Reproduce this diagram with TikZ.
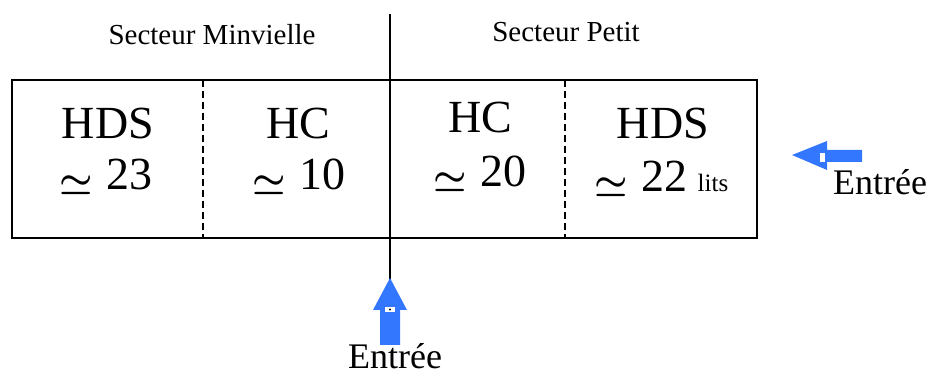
\documentclass[tikz,border=0pt]{standalone}
\usepackage{fontspec}
\usepackage{graphicx}
\usepackage{amsmath}
\setmainfont{Liberation Serif}
\newcommand{\approxsym}{\raisebox{-0.1em}{\scalebox{1.5}{$\boldsymbol{\simeq}$}}\hspace{0.28em}}
\begin{document}
\begin{tikzpicture}[x=1pt,y=-1pt,
  big/.style={font=\fontsize{46}{50}\selectfont, anchor=base, inner sep=0pt},
  small/.style={font=\fontsize{29}{32}\selectfont, anchor=base, inner sep=0pt},
  tiny/.style={font=\fontsize{25}{28}\selectfont, anchor=base, inner sep=0pt},
  entree/.style={font=\fontsize{36}{40}\selectfont, anchor=base, inner sep=0pt},
  blue arrow/.style={fill={rgb,255:red,51;green,119;blue,255}, draw=none},
  divider/.style={line width=2pt, dash pattern=on 7pt off 4pt}]
\useasboundingbox (0,0) rectangle (930,374);
% box
\draw[line width=1.4pt] (12,80) rectangle (757,238);
\draw[divider] (203,80) -- (203,238);
\draw[divider] (565,80) -- (565,238);
\coordinate (top) at (390,14);
\coordinate (bot) at (390,280);
\draw[line width=1.3pt] (top) -- (bot);
% sector labels
\node[small] (sm) at (212,45) {Secteur Minvielle};
\node[small] (sp) at (566,42) {Secteur Petit};
% cells
\node[big] (a1) at (108,139) {HDS};
\node[big] (a2) at (106,190) {\approxsym 23};
\node[big] (b1) at (298,139) {HC};
\node[big] (b2) at (299,190) {\approxsym 10};
\node[big] (c1) at (480,133) {HC};
\node[big] (c2) at (480,187) {\approxsym 20};
\node[big] (d1) at (663,139) {HDS};
\node[big] (d2) at (641,192) {\approxsym 22};
\node[tiny] (lits) at (713,192) {lits};
% right entrance arrow
\fill[blue arrow] (792,155) -- (827,141) -- (827,150) -- (862,150) -- (862,162) -- (827,162) -- (827,170) -- cycle;
\fill[white] (820,153) rectangle (825,162);
\node[entree] (e1) at (880,195) {Entrée};
% bottom entrance arrow
\fill[blue arrow] (390,278) -- (407,310) -- (400,310) -- (400,345) -- (380,345) -- (380,310) -- (373,310) -- cycle;
\fill[white] (385,307) rectangle (395,312);
\fill[black] (390,309.5) circle (1.2);
\node[entree] (e2) at (395,368) {Entrée};
\end{tikzpicture}
\end{document}
